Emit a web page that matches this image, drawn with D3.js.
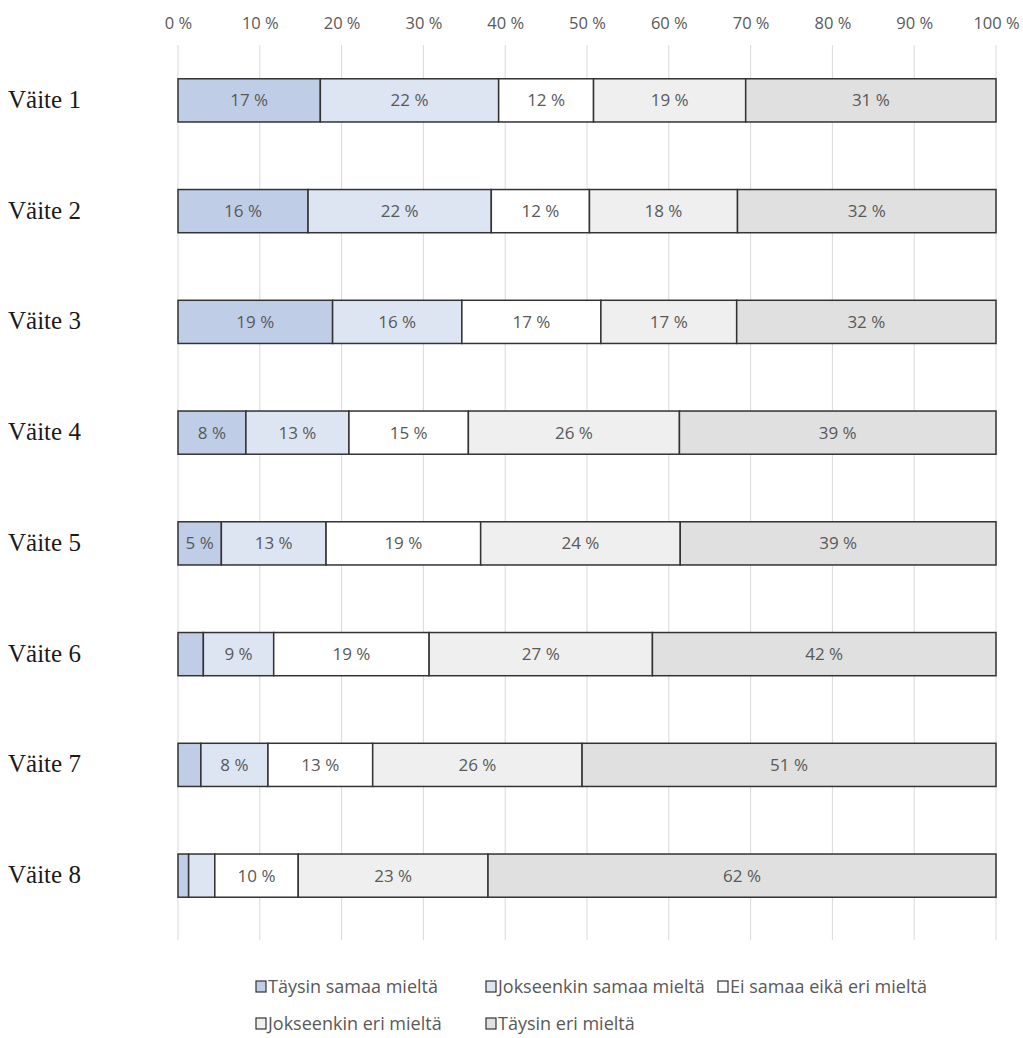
<!DOCTYPE html>
<html>
<head>
<meta charset="utf-8">
<script src="https://cdn.jsdelivr.net/npm/d3@7"></script>
<style>
  html, body { margin: 0; padding: 0; background: #fff; }
  svg { display: block; }
</style>
</head>
<body>
<svg id="chart" width="1023" height="1038"></svg>
<script>
// Statements and response shares (%)
const categories = ["Väite 1", "Väite 2", "Väite 3", "Väite 4", "Väite 5", "Väite 6", "Väite 7", "Väite 8"];
const seriesNames = ["Täysin samaa mieltä", "Jokseenkin samaa mieltä", "Ei samaa eikä eri mieltä", "Jokseenkin eri mieltä", "Täysin eri mieltä"];
const fullyAgree      = [17.4, 15.9, 18.9, 8.3, 5.3, 3.1, 2.8, 1.3];
const partlyAgree     = [21.8, 22.4, 15.8, 12.6, 12.8, 8.6, 8.2, 3.2];
const neutral         = [11.6, 12.0, 17.0, 14.6, 18.9, 19.0, 12.8, 10.2];
const partlyDisagree  = [18.6, 18.1, 16.6, 25.8, 24.4, 27.3, 25.6, 23.2];
const fullyDisagree   = [30.6, 31.6, 31.7, 38.7, 38.6, 42.0, 50.6, 62.1];
const tickValues = [0, 10, 20, 30, 40, 50, 60, 70, 80, 90, 100];
const colors = ["#bfcde6", "#dde4f2", "#ffffff", "#efefef", "#e0e0e0"];

const seriesValues = [fullyAgree, partlyAgree, neutral, partlyDisagree, fullyDisagree];
const rows = categories.map((c, i) => {
  const r = { category: c };
  seriesNames.forEach((s, j) => { r[s] = seriesValues[j][i]; });
  return r;
});

const svg = d3.select("#chart");
const sansFont = "'Open Sans', 'Noto Sans', sans-serif";
const textColor = "#595959";

const x = d3.scaleLinear().domain([0, 100]).range([178, 996]);
const y = d3.scaleBand().domain(categories).range([45, 931])
  .paddingInner(0.61).paddingOuter(0.305);

// Vertical gridlines
svg.append("g").selectAll("line").data(tickValues).join("line")
  .attr("x1", d => x(d)).attr("x2", d => x(d))
  .attr("y1", 45).attr("y2", 940)
  .attr("stroke", "#d9d9d9").attr("stroke-width", 1);

// Top percentage axis
const axis = d3.axisTop(x).tickValues(tickValues).tickSize(0).tickPadding(0)
  .tickFormat(d => d + " %");
const gAxis = svg.append("g").attr("transform", "translate(0,29)").call(axis);
gAxis.select(".domain").remove();
gAxis.selectAll("text")
  .attr("fill", textColor)
  .style("font-family", sansFont)
  .style("font-size", "16.5px");

// Stacked bars
const stack = d3.stack().keys(seriesNames);
const layers = stack(rows);

const gLayers = svg.append("g").selectAll("g").data(layers).join("g")
  .attr("fill", (d, i) => colors[i]);

gLayers.selectAll("rect").data(d => d).join("rect")
  .attr("x", d => x(d[0]))
  .attr("y", d => y(d.data.category))
  .attr("width", d => x(d[1]) - x(d[0]))
  .attr("height", y.bandwidth())
  .attr("stroke", "#333333")
  .attr("stroke-width", 1.5);

// Segment value labels
gLayers.selectAll("text").data(d => d.filter(s => (s[1] - s[0]) >= 4)).join("text")
  .attr("x", d => (x(d[0]) + x(d[1])) / 2)
  .attr("y", d => y(d.data.category) + y.bandwidth() / 2)
  .attr("dy", "0.35em")
  .attr("text-anchor", "middle")
  .attr("fill", textColor)
  .style("font-family", sansFont)
  .style("font-size", "17px")
  .text(d => Math.round(d[1] - d[0]) + " %");

// Category labels
svg.append("g").selectAll("text").data(categories).join("text")
  .attr("x", 8)
  .attr("y", d => y(d) + y.bandwidth() / 2)
  .attr("dy", "0.3em")
  .attr("fill", "#1a1a1a")
  .style("font-family", "'Liberation Serif', 'DejaVu Serif', serif")
  .style("font-size", "25px")
  .text(d => d);

// Legend
const legendPos = [[256, 987], [486, 987], [718, 987], [256, 1024], [486, 1024]];
const legend = svg.append("g").selectAll("g").data(seriesNames).join("g")
  .attr("transform", (d, i) => `translate(${legendPos[i][0]},${legendPos[i][1]})`);
legend.append("rect")
  .attr("x", 0).attr("y", -6).attr("width", 10).attr("height", 11)
  .attr("fill", (d, i) => colors[i])
  .attr("stroke", "#333333").attr("stroke-width", 1.2);
legend.append("text")
  .attr("x", 12).attr("y", 0).attr("dy", "0.35em")
  .attr("fill", textColor)
  .style("font-family", sansFont)
  .style("font-size", "18px")
  .text(d => d);
</script>
</body>
</html>
